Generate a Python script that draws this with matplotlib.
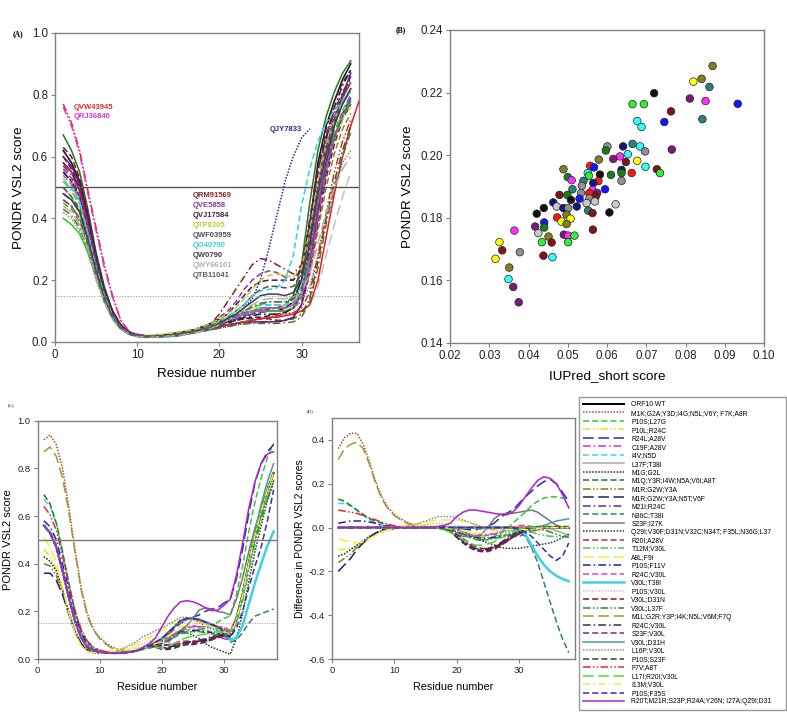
import matplotlib
matplotlib.use("Agg")
import matplotlib.pyplot as plt
import numpy as np
from matplotlib.ticker import FormatStrFormatter, MultipleLocator

plt.rcParams['font.family'] = ['Liberation Sans', 'DejaVu Sans']
plt.rcParams['axes.unicode_minus'] = False

# ---------------- panel A: PONDR VSL2 profiles of ORF10 sequences ----------------
# residues start at 1, one value per residue
a_bundle = [
    [0.62, 0.58, 0.52, 0.41, 0.28, 0.17, 0.10, 0.055, 0.03, 0.02,
     0.018, 0.018, 0.02, 0.022, 0.025, 0.03, 0.035, 0.04, 0.05, 0.06,
     0.07, 0.08, 0.09, 0.10, 0.10, 0.10, 0.10, 0.11, 0.13, 0.20,
     0.38, 0.58, 0.70, 0.78, 0.85, 0.90],
    [0.67, 0.62, 0.55, 0.43, 0.29, 0.18, 0.10, 0.055, 0.03, 0.022,
     0.02, 0.02, 0.02, 0.022, 0.025, 0.03, 0.035, 0.045, 0.055, 0.065,
     0.075, 0.085, 0.095, 0.10, 0.11, 0.11, 0.11, 0.12, 0.15, 0.25,
     0.45, 0.62, 0.73, 0.81, 0.87, 0.91],
    [0.60, 0.56, 0.50, 0.39, 0.27, 0.16, 0.09, 0.05, 0.028, 0.02,
     0.016, 0.015, 0.016, 0.018, 0.02, 0.025, 0.03, 0.035, 0.04, 0.05,
     0.06, 0.07, 0.075, 0.08, 0.08, 0.085, 0.09, 0.095, 0.11, 0.16,
     0.30, 0.48, 0.62, 0.72, 0.80, 0.86],
    [0.57, 0.54, 0.49, 0.38, 0.26, 0.16, 0.09, 0.05, 0.03, 0.022,
     0.02, 0.02, 0.02, 0.022, 0.025, 0.03, 0.035, 0.04, 0.045, 0.055,
     0.065, 0.075, 0.085, 0.09, 0.10, 0.105, 0.11, 0.12, 0.14, 0.22,
     0.40, 0.56, 0.66, 0.74, 0.80, 0.84],
    [0.55, 0.52, 0.47, 0.37, 0.25, 0.15, 0.085, 0.045, 0.025, 0.018,
     0.015, 0.015, 0.016, 0.018, 0.02, 0.025, 0.03, 0.04, 0.05, 0.06,
     0.07, 0.085, 0.10, 0.11, 0.12, 0.12, 0.12, 0.12, 0.13, 0.16,
     0.26, 0.42, 0.58, 0.68, 0.75, 0.80],
    [0.52, 0.49, 0.44, 0.34, 0.23, 0.14, 0.08, 0.045, 0.025, 0.018,
     0.015, 0.015, 0.018, 0.02, 0.025, 0.03, 0.04, 0.05, 0.06, 0.07,
     0.08, 0.09, 0.10, 0.11, 0.12, 0.13, 0.13, 0.13, 0.14, 0.18,
     0.30, 0.47, 0.60, 0.68, 0.74, 0.78],
    [0.58, 0.55, 0.50, 0.40, 0.27, 0.16, 0.09, 0.05, 0.03, 0.02,
     0.018, 0.018, 0.02, 0.02, 0.022, 0.025, 0.03, 0.035, 0.045, 0.055,
     0.065, 0.075, 0.085, 0.09, 0.095, 0.10, 0.10, 0.10, 0.11, 0.14,
     0.24, 0.40, 0.55, 0.66, 0.74, 0.79],
    [0.63, 0.60, 0.53, 0.42, 0.28, 0.17, 0.10, 0.055, 0.032, 0.022,
     0.02, 0.02, 0.02, 0.022, 0.025, 0.028, 0.032, 0.04, 0.05, 0.06,
     0.065, 0.07, 0.075, 0.075, 0.075, 0.075, 0.07, 0.07, 0.08, 0.12,
     0.22, 0.38, 0.53, 0.64, 0.72, 0.77],
    [0.50, 0.47, 0.42, 0.33, 0.23, 0.14, 0.08, 0.045, 0.026, 0.02,
     0.02, 0.022, 0.025, 0.028, 0.03, 0.035, 0.04, 0.05, 0.06, 0.07,
     0.08, 0.09, 0.10, 0.11, 0.11, 0.11, 0.11, 0.12, 0.13, 0.17,
     0.28, 0.44, 0.57, 0.66, 0.72, 0.76],
    [0.45, 0.43, 0.39, 0.31, 0.22, 0.14, 0.08, 0.045, 0.026, 0.02,
     0.018, 0.018, 0.02, 0.022, 0.025, 0.03, 0.035, 0.04, 0.05, 0.06,
     0.07, 0.08, 0.09, 0.095, 0.10, 0.10, 0.10, 0.10, 0.11, 0.14,
     0.22, 0.36, 0.50, 0.61, 0.69, 0.74],
    [0.42, 0.40, 0.36, 0.29, 0.20, 0.13, 0.075, 0.042, 0.025, 0.018,
     0.016, 0.016, 0.018, 0.02, 0.022, 0.026, 0.03, 0.036, 0.045, 0.055,
     0.065, 0.075, 0.085, 0.09, 0.095, 0.10, 0.10, 0.10, 0.11, 0.13,
     0.18, 0.28, 0.40, 0.50, 0.58, 0.62],
    [0.46, 0.44, 0.40, 0.32, 0.23, 0.145, 0.085, 0.048, 0.028, 0.02,
     0.018, 0.018, 0.02, 0.022, 0.025, 0.03, 0.035, 0.042, 0.05, 0.06,
     0.07, 0.08, 0.09, 0.10, 0.105, 0.11, 0.11, 0.11, 0.12, 0.16,
     0.28, 0.45, 0.58, 0.67, 0.73, 0.77],
    [0.40, 0.38, 0.35, 0.29, 0.21, 0.13, 0.075, 0.042, 0.025, 0.018,
     0.016, 0.016, 0.018, 0.02, 0.023, 0.027, 0.032, 0.04, 0.05, 0.06,
     0.07, 0.08, 0.09, 0.10, 0.10, 0.10, 0.10, 0.10, 0.11, 0.15,
     0.26, 0.43, 0.57, 0.66, 0.73, 0.78],
    [0.52, 0.50, 0.46, 0.36, 0.25, 0.155, 0.09, 0.05, 0.028, 0.02,
     0.018, 0.018, 0.02, 0.022, 0.025, 0.03, 0.035, 0.042, 0.05, 0.06,
     0.07, 0.08, 0.09, 0.10, 0.11, 0.12, 0.12, 0.12, 0.13, 0.18,
     0.32, 0.50, 0.63, 0.71, 0.77, 0.81],
    [0.55, 0.52, 0.47, 0.37, 0.25, 0.15, 0.085, 0.047, 0.027, 0.02,
     0.018, 0.018, 0.02, 0.022, 0.025, 0.03, 0.035, 0.042, 0.05, 0.06,
     0.065, 0.07, 0.08, 0.085, 0.09, 0.09, 0.09, 0.095, 0.11, 0.16,
     0.30, 0.50, 0.66, 0.76, 0.83, 0.88],
    [0.50, 0.47, 0.42, 0.33, 0.23, 0.14, 0.08, 0.045, 0.026, 0.02,
     0.018, 0.018, 0.02, 0.022, 0.025, 0.03, 0.035, 0.04, 0.045, 0.05,
     0.055, 0.06, 0.065, 0.07, 0.075, 0.08, 0.085, 0.09, 0.095, 0.10,
     0.12, 0.18, 0.28, 0.38, 0.47, 0.55],
    [0.58, 0.55, 0.49, 0.39, 0.26, 0.16, 0.09, 0.05, 0.03, 0.02,
     0.018, 0.018, 0.02, 0.022, 0.025, 0.03, 0.035, 0.04, 0.045, 0.05,
     0.055, 0.06, 0.065, 0.07, 0.075, 0.08, 0.08, 0.085, 0.09, 0.10,
     0.12, 0.20, 0.34, 0.48, 0.60, 0.70, 0.78],
    [0.48, 0.46, 0.42, 0.34, 0.24, 0.15, 0.085, 0.047, 0.027, 0.02,
     0.018, 0.018, 0.02, 0.022, 0.025, 0.028, 0.032, 0.036, 0.04, 0.045,
     0.05, 0.055, 0.06, 0.062, 0.064, 0.066, 0.068, 0.07, 0.075, 0.09,
     0.14, 0.26, 0.40, 0.52, 0.62, 0.70],
    [0.54, 0.51, 0.46, 0.36, 0.25, 0.15, 0.085, 0.048, 0.027, 0.02,
     0.018, 0.018, 0.02, 0.022, 0.025, 0.03, 0.035, 0.042, 0.05, 0.06,
     0.07, 0.08, 0.09, 0.10, 0.11, 0.11, 0.11, 0.11, 0.12, 0.16,
     0.28, 0.46, 0.60, 0.70, 0.77, 0.82],
    [0.60, 0.57, 0.51, 0.40, 0.27, 0.16, 0.09, 0.05, 0.03, 0.02,
     0.018, 0.018, 0.02, 0.022, 0.025, 0.03, 0.035, 0.04, 0.045, 0.05,
     0.055, 0.06, 0.065, 0.065, 0.065, 0.065, 0.065, 0.07, 0.08, 0.12,
     0.24, 0.42, 0.58, 0.70, 0.80, 0.87],
    [0.43, 0.41, 0.37, 0.30, 0.21, 0.13, 0.075, 0.042, 0.025, 0.018,
     0.016, 0.016, 0.018, 0.02, 0.022, 0.026, 0.03, 0.035, 0.04, 0.045,
     0.05, 0.055, 0.058, 0.06, 0.06, 0.06, 0.06, 0.062, 0.065, 0.08,
     0.13, 0.24, 0.38, 0.50, 0.60, 0.68],
]
a_bundle_colors = ['#111111', '#1f7a1f', '#1f1f7a', '#7a1f7a', '#33dd33', '#33cc33', '#2b2bcc',
                   '#7a1a1a', '#e0e020', '#8a8a20', '#888888', '#2f7f7f', '#22cc22', '#30d8e0',
                   '#222222', '#c0c0c0', '#e02020', '#1f6a1f', '#e040e0', '#6a1a8a', '#6b6b1f']
a_bundle_styles = ['solid', 'solid', 'dash', 'dashdot', 'dash', 'dashdot', 'long',
                   'dash', 'dashdot', 'dash', 'dot', 'dash', 'solid', 'dash',
                   'dashdot', 'long', 'solid', 'dashdot', 'dash', 'solid', 'dashdot']

a_named_ids = ['QVW43945', 'QRJ36840', 'QJY7833', 'QRM91569', 'QVE5858', 'QVJ17584',
               'QTP8305', 'QWF03959', 'QO40790', 'QW0790', 'QWY66101', 'QTB11041']
a_named = [
    [0.77, 0.71, 0.62, 0.49, 0.37, 0.25, 0.15, 0.07, 0.035, 0.025,
     0.02, 0.02, 0.022, 0.025, 0.028, 0.032, 0.036, 0.04, 0.045, 0.05,
     0.055, 0.06, 0.065, 0.07, 0.075, 0.08, 0.085, 0.09, 0.095, 0.11,
     0.16, 0.28, 0.42, 0.55, 0.65, 0.72],
    [0.76, 0.70, 0.61, 0.48, 0.36, 0.24, 0.145, 0.07, 0.035, 0.025,
     0.02, 0.02, 0.022, 0.025, 0.028, 0.032, 0.036, 0.04, 0.05, 0.06,
     0.07, 0.08, 0.09, 0.10, 0.10, 0.105, 0.11, 0.11, 0.12, 0.15,
     0.24, 0.40, 0.55, 0.66, 0.74, 0.80],
    [0.55, 0.52, 0.47, 0.37, 0.25, 0.15, 0.085, 0.047, 0.027, 0.02,
     0.018, 0.018, 0.02, 0.022, 0.025, 0.03, 0.035, 0.042, 0.05, 0.06,
     0.075, 0.09, 0.11, 0.14, 0.20, 0.30, 0.41, 0.52, 0.60, 0.66,
     0.69],
    [0.58, 0.55, 0.49, 0.39, 0.26, 0.16, 0.09, 0.05, 0.03, 0.022,
     0.02, 0.02, 0.022, 0.025, 0.03, 0.035, 0.04, 0.05, 0.06, 0.09,
     0.13, 0.17, 0.21, 0.25, 0.27, 0.265, 0.25, 0.235, 0.22, 0.25,
     0.38, 0.55, 0.67, 0.75, 0.81, 0.85],
    [0.56, 0.53, 0.48, 0.38, 0.26, 0.16, 0.09, 0.05, 0.03, 0.022,
     0.02, 0.02, 0.022, 0.025, 0.03, 0.035, 0.04, 0.05, 0.06, 0.08,
     0.10, 0.13, 0.17, 0.20, 0.22, 0.23, 0.225, 0.21, 0.20, 0.23,
     0.35, 0.52, 0.65, 0.73, 0.79, 0.84],
    [0.62, 0.58, 0.52, 0.41, 0.28, 0.17, 0.10, 0.055, 0.03, 0.022,
     0.02, 0.02, 0.022, 0.025, 0.03, 0.035, 0.04, 0.05, 0.06, 0.075,
     0.09, 0.12, 0.15, 0.18, 0.195, 0.20, 0.20, 0.20, 0.20, 0.24,
     0.38, 0.56, 0.69, 0.78, 0.84, 0.88],
    [0.53, 0.50, 0.45, 0.35, 0.24, 0.15, 0.085, 0.047, 0.027, 0.02,
     0.02, 0.022, 0.025, 0.028, 0.032, 0.036, 0.04, 0.05, 0.06, 0.075,
     0.09, 0.11, 0.14, 0.17, 0.20, 0.215, 0.22, 0.215, 0.21, 0.24,
     0.36, 0.52, 0.64, 0.72, 0.78, 0.82],
    [0.50, 0.47, 0.43, 0.34, 0.24, 0.15, 0.085, 0.047, 0.027, 0.02,
     0.018, 0.018, 0.02, 0.022, 0.025, 0.03, 0.035, 0.042, 0.05, 0.065,
     0.08, 0.10, 0.12, 0.15, 0.17, 0.18, 0.18, 0.175, 0.18, 0.22,
     0.34, 0.50, 0.63, 0.72, 0.79, 0.84],
    [0.52, 0.50, 0.45, 0.35, 0.24, 0.15, 0.085, 0.047, 0.027, 0.02,
     0.018, 0.018, 0.02, 0.022, 0.025, 0.03, 0.035, 0.042, 0.05, 0.065,
     0.08, 0.10, 0.12, 0.15, 0.165, 0.17, 0.175, 0.20, 0.28, 0.44,
     0.56, 0.65, 0.71, 0.75, 0.78, 0.81],
    [0.48, 0.46, 0.42, 0.33, 0.23, 0.14, 0.08, 0.045, 0.026, 0.02,
     0.018, 0.018, 0.02, 0.022, 0.025, 0.03, 0.035, 0.04, 0.048, 0.06,
     0.075, 0.09, 0.11, 0.13, 0.15, 0.155, 0.155, 0.15, 0.16, 0.20,
     0.32, 0.48, 0.61, 0.70, 0.77, 0.82],
    [0.44, 0.42, 0.38, 0.30, 0.21, 0.13, 0.075, 0.042, 0.025, 0.018,
     0.016, 0.016, 0.018, 0.02, 0.022, 0.026, 0.03, 0.036, 0.045, 0.055,
     0.07, 0.085, 0.10, 0.12, 0.135, 0.14, 0.14, 0.14, 0.145, 0.16,
     0.22, 0.32, 0.42, 0.50, 0.56, 0.60],
    [0.46, 0.44, 0.40, 0.32, 0.22, 0.14, 0.08, 0.045, 0.026, 0.02,
     0.018, 0.018, 0.02, 0.022, 0.025, 0.03, 0.035, 0.04, 0.048, 0.058,
     0.07, 0.085, 0.10, 0.115, 0.125, 0.13, 0.13, 0.13, 0.14, 0.17,
     0.28, 0.44, 0.57, 0.66, 0.73, 0.78],
]
a_named_colors = ['#e02a2a', '#e030e0', '#2a2a9a', '#8b2020', '#8b3a9b', '#4a1a4a',
                  '#c8c832', '#505050', '#30d0e0', '#404040', '#b0b0b0', '#606060']
a_named_styles = ['dashdotdot', 'dashdotdot', 'dot', 'dashdot', 'dash', 'dash',
                  'dash', 'dash', 'dash', 'solid', 'long', 'dashdot']

# ---------------- panel B: IUPred_short vs PONDR VSL2 means ----------------
b_iupred = [0.0869, 0.0841, 0.0820, 0.0861, 0.0811, 0.0851, 0.0933, 0.0720, 0.0665, 0.0694,
            0.0763, 0.0843, 0.0746, 0.0677, 0.0688, 0.0765, 0.0601, 0.0641, 0.0665, 0.0684,
            0.0697, 0.0597, 0.0633, 0.0616, 0.0653, 0.0579, 0.0677, 0.0648, 0.0698, 0.0727,
            0.0735, 0.0663, 0.0557, 0.0567, 0.0637, 0.0610, 0.0637, 0.0489, 0.0500, 0.0582,
            0.0551, 0.0554, 0.0510, 0.0540, 0.0637, 0.0578, 0.0536, 0.0565, 0.0512, 0.0595,
            0.0563, 0.0575, 0.0534, 0.0555, 0.0571, 0.0555, 0.0569, 0.0548, 0.0463, 0.0479,
            0.0499, 0.0508, 0.0472, 0.0489, 0.0501, 0.0530, 0.0523, 0.0552, 0.0563, 0.0622,
            0.0606, 0.0421, 0.0439, 0.0497, 0.0473, 0.0484, 0.0507, 0.0440, 0.0440, 0.0417,
            0.0497, 0.0564, 0.0364, 0.0425, 0.0451, 0.0490, 0.0501, 0.0517, 0.0434, 0.0459,
            0.0501, 0.0326, 0.0333, 0.0378, 0.0438, 0.0461, 0.0316, 0.0351, 0.0349, 0.0361,
            0.0375]
b_vsl2 = [0.2285, 0.2244, 0.2235, 0.2218, 0.2181, 0.2173, 0.2164, 0.2198, 0.2163, 0.2163,
          0.2140, 0.2115, 0.2106, 0.2109, 0.2090, 0.2018, 0.2028, 0.2028, 0.2036, 0.2028,
          0.2012, 0.2015, 0.1996, 0.1988, 0.2003, 0.1986, 0.1982, 0.1978, 0.1963, 0.1955,
          0.1943, 0.1943, 0.1966, 0.1961, 0.1953, 0.1937, 0.1943, 0.1955, 0.1930, 0.1938,
          0.1943, 0.1934, 0.1920, 0.1918, 0.1918, 0.1917, 0.1902, 0.1911, 0.1891, 0.1891,
          0.1889, 0.1879, 0.1879, 0.1879, 0.1868, 0.1862, 0.1852, 0.1847, 0.1849, 0.1873,
          0.1873, 0.1857, 0.1836, 0.1831, 0.1831, 0.1861, 0.1836, 0.1823, 0.1815, 0.1843,
          0.1817, 0.1813, 0.1831, 0.1810, 0.1801, 0.1788, 0.1797, 0.1785, 0.1769, 0.1772,
          0.1780, 0.1762, 0.1759, 0.1751, 0.1740, 0.1746, 0.1743, 0.1743, 0.1722, 0.1721,
          0.1722, 0.1722, 0.1696, 0.1690, 0.1679, 0.1674, 0.1669, 0.1641, 0.1604, 0.1579,
          0.1530]
b_group = ['olive', 'olive', 'yellow', 'teal', 'purple', 'magenta', 'blue', 'black', 'green', 'green',
           'darkred', 'teal', 'blue', 'cyan', 'cyan', 'purple', 'gray', 'navy', 'teal', 'cyan',
           'gray', 'darkgreen', 'magenta', 'purple', 'cyan', 'olive', 'yellow', 'darkred', 'cyan', 'darkred',
           'green', 'red', 'red', 'blue', 'navy', 'darkgreen', 'darkgreen', 'olive', 'darkgreen', 'black',
           'cyan', 'green', 'magenta', 'teal', 'gray', 'red', 'gray', 'navy', 'teal', 'blue',
           'magenta', 'purple', 'gray', 'red', 'darkred', 'gray', 'lightgray', 'lightgray', 'navy', 'darkred',
           'darkgreen', 'black', 'lightgray', 'navy', 'gray', 'blue', 'navy', 'teal', 'darkred', 'lightgray',
           'black', 'black', 'black', 'olive', 'red', 'yellow', 'yellow', 'blue', 'darkgreen', 'purple',
           'olive', 'darkred', 'magenta', 'lightgray', 'olive', 'purple', 'magenta', 'green', 'green', 'darkred',
           'green', 'yellow', 'darkred', 'gray', 'darkred', 'cyan', 'yellow', 'olive', 'cyan', 'purple',
           'purple']
b_palette = {'olive': '#808020', 'yellow': '#ffff10', 'teal': '#2a8080', 'purple': '#7a1a7a',
             'magenta': '#ff30ff', 'blue': '#1515ff', 'black': '#101010', 'green': '#30f030',
             'darkred': '#801515', 'cyan': '#30ffff', 'gray': '#909090', 'lightgray': '#c8c8c8',
             'navy': '#151580', 'darkgreen': '#158015', 'red': '#ff1515'}

# ---------------- panels C and D: ORF10 WT and point variants ----------------
wt_vsl2 = [0.56, 0.53, 0.47, 0.37, 0.26, 0.16, 0.09, 0.05, 0.035, 0.03,
           0.027, 0.025, 0.025, 0.027, 0.03, 0.035, 0.045, 0.055, 0.07, 0.085,
           0.11, 0.135, 0.16, 0.17, 0.17, 0.165, 0.155, 0.145, 0.135, 0.125,
           0.11, 0.17, 0.27, 0.40, 0.52, 0.62, 0.71, 0.78]

variant_labels = [
    'M1K;G2A;Y3D;I4G;N5L;V6Y; F7K;A8R', 'P10S;L27G', 'P10L;R24C', 'R24L;A28V', 'C19F;A28V',
    'I4V;N5D', 'L37F;T38I', 'M1G;G2L', 'M1Q;Y3R;I4W;N5A;V6I;A8T', 'M1R;G2W;Y3A',
    'M1R;G2W;Y3A;N5T;V6F', 'M21I;R24C', 'N36C;T38I', 'S23F;I27K',
    'Q29I;V30F;D31N;V32C;N34T; F35L;N36G;L37', 'R20I;A28V', 'T12M;V30L', 'A8L;F9I',
    'P10S;F11V', 'R24C;V30L', 'V30L;T38I', 'P10S;V30L', 'V30L;D31N', 'V30L;L37F',
    'M1L;G2R;Y3P;I4K;N5L;V6M;F7Q', 'R24C;V30L', 'S23F;V30L', 'V30L;D31H', 'L16P;V30L',
    'P10S;S23F', 'F7V;A8T', 'L17I;R20I;V30L', 'I13M;V30L', 'P10S;F35S',
    'R20T;M21R;S23P;R24A;Y26N; I27A;Q29I;D31',
]
# difference to WT per residue (panel D)
variant_diffs = [
    [0.36, 0.41, 0.43, 0.43, 0.38, 0.30, 0.21, 0.14, 0.09, 0.06,
     0.04, 0.025, 0.015, 0.01, 0.005, 0, 0, 0, 0, 0,
     0, 0, 0, 0, 0, 0, 0, 0, 0, 0,
     0, 0, 0, 0, 0, 0, 0, 0],
    [0, 0, 0, 0, 0, 0, 0, 0, 0, 0,
     0, 0, 0, 0, 0, 0, -0.005, -0.01, -0.015, -0.02,
     -0.035, -0.045, -0.055, -0.06, -0.055, -0.04, -0.025, -0.01, 0.02, 0.045,
     0.07, 0.10, 0.12, 0.135, 0.14, 0.14, 0.135, 0.125],
    [-0.10, -0.10, -0.095, -0.085, -0.07, -0.05, -0.03, -0.015, -0.005, 0,
     0.005, 0.01, 0.01, 0.01, 0.01, 0.01, 0.01, 0.01, 0.005, 0,
     -0.01, -0.02, -0.03, -0.035, -0.035, -0.03, -0.02, -0.015, -0.01, -0.005,
     0, 0, 0, 0, 0, 0, 0, 0],
    [0, 0, 0, 0, 0, 0, 0, 0, 0, 0,
     0, 0, 0, 0, 0, 0, 0, 0, 0, 0,
     -0.005, -0.01, -0.01, -0.005, 0.005, 0.02, 0.045, 0.065, 0.08, 0.11,
     0.14, 0.165, 0.19, 0.21, 0.22, 0.20, 0.16, 0.12],
    [0, 0, 0, 0, 0, 0, 0, 0, 0, 0,
     0, 0, 0, 0, 0, 0, 0, -0.01, -0.02, -0.03,
     -0.04, -0.04, -0.04, -0.035, -0.03, -0.03, -0.03, -0.035, -0.04, -0.04,
     -0.03, -0.02, -0.01, 0, 0, 0, 0, 0],
    [0.11, 0.11, 0.10, 0.08, 0.055, 0.035, 0.02, 0.01, 0.005, 0,
     0, 0, 0, 0, 0, 0, 0, 0, 0, 0,
     0, 0, 0, 0, 0, 0, 0, 0, 0, 0,
     0, 0, 0, 0, 0, 0, 0, 0],
    [0, 0, 0, 0, 0, 0, 0, 0, 0, 0,
     0, 0, 0, 0, 0, 0, 0, 0, 0, 0,
     0, 0, 0, 0, 0, 0, 0, 0, 0, 0,
     0, 0, 0, 0, -0.005, -0.015, -0.025, -0.035],
    [-0.13, -0.12, -0.10, -0.08, -0.06, -0.04, -0.025, -0.015, -0.01, -0.005,
     0, 0, 0, 0, 0, 0, 0, 0, 0, 0,
     0, 0, 0, 0, 0, 0, 0, 0, 0, 0,
     0, 0, 0, 0, 0, 0, 0, 0],
    [0.13, 0.12, 0.10, 0.08, 0.06, 0.04, 0.03, 0.02, 0.01, 0.005,
     0, 0, 0, 0, 0, 0, 0, 0, 0, 0,
     0, 0, 0, 0, 0, 0, 0, 0, 0, 0,
     0, 0, 0, 0, 0, 0, 0, 0],
    [-0.16, -0.14, -0.12, -0.09, -0.07, -0.045, -0.025, -0.015, -0.005, 0,
     0, 0, 0, 0, 0, 0, 0, 0, 0, 0,
     0, 0, 0, 0, 0, 0, 0, 0, 0, 0,
     0, 0, 0, 0, 0, 0, 0, 0],
    [-0.20, -0.17, -0.14, -0.10, -0.07, -0.045, -0.025, -0.01, 0, 0,
     0, 0, 0, 0, 0, 0, 0, 0, 0, 0,
     0, 0, 0, 0, 0, 0, 0, 0, 0, 0,
     0, 0, 0, 0, 0, 0, 0, 0],
    [0, 0, 0, 0, 0, 0, 0, 0, 0, 0,
     0, 0, 0, 0, 0, 0, 0, -0.005, -0.02, -0.04,
     -0.06, -0.08, -0.095, -0.10, -0.095, -0.085, -0.07, -0.05, -0.03, -0.015,
     -0.005, 0, 0, 0, 0, 0, 0, 0],
    [0, 0, 0, 0, 0, 0, 0, 0, 0, 0,
     0, 0, 0, 0, 0, 0, 0, 0, 0, 0,
     0, 0, 0, 0, 0, 0, 0, 0, -0.01, -0.02,
     -0.04, -0.09, -0.16, -0.25, -0.34, -0.43, -0.51, -0.57],
    [0, 0, 0, 0, 0, 0, 0, 0, 0, 0,
     0, 0, 0, 0, 0, 0, 0, 0, 0, 0,
     -0.02, -0.03, -0.04, -0.03, 0, 0.04, 0.06, 0.065, 0.065, 0.07,
     0.075, 0.08, 0.07, 0.05, 0.03, 0.01, 0, 0],
    [0, 0, 0, 0, 0, 0, 0, 0, 0, 0,
     0, 0, 0, 0, 0, 0, 0, 0, -0.005, -0.01,
     -0.02, -0.035, -0.05, -0.06, -0.07, -0.08, -0.09, -0.095, -0.095, -0.095,
     -0.09, -0.085, -0.08, -0.075, -0.07, -0.06, -0.045, -0.03],
    [0, 0, 0, 0, 0, 0, 0, 0, 0, 0,
     0, 0, 0, 0, 0, 0, 0, 0, -0.01, -0.03,
     -0.05, -0.07, -0.085, -0.095, -0.095, -0.09, -0.08, -0.065, -0.045, -0.03,
     -0.015, -0.005, 0, 0, 0, 0, 0, 0],
    [0, 0, 0, 0, 0, 0, 0, 0, 0, 0,
     0, 0.005, 0.005, 0.005, 0, 0, 0, 0, -0.005, -0.01,
     -0.02, -0.03, -0.04, -0.045, -0.045, -0.04, -0.035, -0.03, -0.02, -0.015,
     -0.015, -0.02, -0.03, -0.035, -0.04, -0.04, -0.04, -0.04],
    [-0.05, -0.06, -0.065, -0.07, -0.065, -0.05, -0.035, -0.02, -0.01, 0,
     0.005, 0.01, 0.015, 0.02, 0.025, 0.03, 0.035, 0.035, 0.035, 0.035,
     0.03, 0.02, 0.01, 0, -0.005, -0.01, -0.01, -0.005, 0, 0,
     0, 0, 0, 0, 0, 0, 0, 0],
    [0.02, 0.025, 0.03, 0.03, 0.03, 0.025, 0.02, 0.01, 0.005, 0,
     0, 0, 0, 0, 0, 0, 0, 0, -0.01, -0.02,
     -0.03, -0.04, -0.045, -0.05, -0.05, -0.045, -0.04, -0.035, -0.03, -0.02,
     -0.01, 0, 0, 0, 0, 0, 0, 0],
    [0, 0, 0, 0, 0, 0, 0, 0, 0, 0,
     0, 0, 0, 0, 0, 0, 0, 0, 0, -0.01,
     -0.02, -0.03, -0.04, -0.04, -0.035, -0.03, -0.02, -0.01, 0, 0.01,
     0.01, 0.005, 0, 0, 0, 0, 0, 0],
    [0, 0, 0, 0, 0, 0, 0, 0, 0, 0,
     0, 0, 0, 0, 0, 0, 0, 0, 0, 0,
     0, 0, 0, 0, 0, 0, 0, -0.01, -0.01, -0.01,
     -0.03, -0.08, -0.13, -0.17, -0.20, -0.22, -0.235, -0.245],
    [0, 0, 0, 0, 0, 0, 0, 0, 0, 0,
     0, 0, 0.005, 0.01, 0.015, 0.02, 0.02, 0.02, 0.015, 0.01,
     0.005, 0, -0.005, -0.01, -0.01, -0.01, -0.005, 0, 0, 0,
     0, -0.005, -0.01, -0.01, -0.01, -0.005, 0, 0],
    [0, 0, 0, 0, 0, 0, 0, 0, 0, 0,
     0, 0, 0, 0, 0, 0, 0, 0, -0.02, -0.04,
     -0.065, -0.085, -0.10, -0.105, -0.10, -0.09, -0.075, -0.055, -0.035, -0.02,
     -0.01, 0, 0.005, 0.005, 0.005, 0.005, 0.005, 0.005],
    [0, 0, 0, 0, 0, 0, 0, 0, 0, 0,
     0, 0, 0, 0, 0, 0, 0, 0, -0.01, -0.02,
     -0.03, -0.04, -0.05, -0.055, -0.055, -0.05, -0.045, -0.04, -0.035, -0.03,
     -0.02, -0.015, -0.01, -0.01, -0.02, -0.03, -0.04, -0.045],
    [0.31, 0.36, 0.38, 0.39, 0.36, 0.29, 0.20, 0.13, 0.085, 0.055,
     0.035, 0.02, 0.01, 0.005, 0, 0, 0, 0, 0, 0,
     0, 0, 0, 0, 0, 0, 0, 0, 0, 0,
     0, 0, 0, 0, 0, 0, 0, 0],
    [0, 0, 0, 0, 0, 0, 0, 0, 0, 0,
     0, 0, 0, 0, 0, 0, 0, 0, -0.02, -0.04,
     -0.06, -0.08, -0.095, -0.10, -0.10, -0.09, -0.075, -0.06, -0.04, -0.025,
     -0.01, 0, 0, 0, 0, 0, 0, 0],
    [0, 0, 0, 0, 0, 0, 0, 0, 0, 0,
     0, 0, 0, 0, 0, 0, 0, 0, 0, -0.03,
     -0.05, -0.075, -0.095, -0.105, -0.11, -0.10, -0.085, -0.065, -0.045, -0.03,
     -0.015, -0.005, 0, 0, 0, 0, 0, 0],
    [0, 0, 0, 0, 0, 0, 0, 0, 0, 0,
     0, 0, 0, 0, 0, 0, 0, 0, 0, 0,
     0, 0, 0, 0, 0, 0, 0, 0, -0.005, -0.01,
     -0.01, -0.005, 0, 0.01, 0.02, 0.03, 0.035, 0.04],
    [0, 0, 0, 0, 0, 0, 0, 0, 0, 0,
     0, 0.005, 0.01, 0.02, 0.03, 0.04, 0.05, 0.05, 0.05, 0.045,
     0.035, 0.025, 0.015, 0.005, 0, -0.01, -0.02, -0.02, -0.015, -0.01,
     0, 0, 0, 0, 0, 0, 0, 0],
    [0, 0, 0, 0, 0, 0, 0, 0, 0, 0,
     0, 0, 0, 0, 0, 0, 0, 0, -0.02, -0.045,
     -0.07, -0.09, -0.105, -0.11, -0.105, -0.095, -0.08, -0.06, -0.04, -0.025,
     -0.01, 0, 0, 0, 0, 0, 0, 0],
    [0.08, 0.075, 0.07, 0.065, 0.055, 0.045, 0.035, 0.025, 0.015, 0.008,
     0.003, 0, 0, 0, 0, 0, 0, 0, 0, 0,
     0, 0, 0, 0, 0, 0, 0, 0, 0, 0,
     0, 0, 0, 0, 0, 0, 0, 0],
    [0, 0, 0, 0, 0, 0, 0, 0, 0, 0,
     0, 0, 0, 0, 0, 0, 0, -0.01, -0.02, -0.04,
     -0.055, -0.07, -0.08, -0.08, -0.075, -0.065, -0.05, -0.035, -0.02, -0.01,
     0, 0, 0, 0, 0, 0, 0, 0],
    [0, 0, 0, 0, 0, 0, 0, 0, 0, 0,
     0, 0.005, 0.01, 0.01, 0.01, 0.01, 0.005, 0, -0.005, -0.01,
     -0.015, -0.02, -0.025, -0.025, -0.02, -0.015, -0.01, -0.01, -0.01, -0.01,
     -0.01, -0.01, -0.005, 0, 0, 0, 0, 0],
    [0, 0, 0, 0, 0, 0, 0, 0, 0, 0,
     0, 0, 0, 0, 0, 0, 0, 0, 0, 0,
     0, 0, 0, 0, 0, 0, 0, 0, 0, -0.01,
     -0.02, -0.04, -0.07, -0.10, -0.13, -0.15, -0.13, -0.07],
    [0, 0, 0, 0, 0, 0, 0, 0, 0, 0,
     0, 0, 0, 0, 0, 0, 0.005, 0.01, 0.02, 0.05,
     0.07, 0.08, 0.08, 0.075, 0.07, 0.065, 0.06, 0.058, 0.07, 0.10,
     0.14, 0.18, 0.215, 0.232, 0.225, 0.20, 0.15, 0.09],
]
variant_colors = ['#b5472f', '#33cc33', '#e6e620', '#2b2bb8', '#cc33cc', '#3fd8e0', '#a8a8a8',
                  '#222222', '#1f7a1f', '#7f7f1f', '#1f1f6b', '#7a1f7a', '#2f7f7f', '#777777',
                  '#333333', '#cc2a2a', '#44cc44', '#eeee44', '#22229a', '#e040e0', '#40d0e0',
                  '#c8c8c8', '#7a1a1a', '#2f8f2f', '#9a9a3a', '#2a2a6a', '#7a2a7a', '#4a9a9a',
                  '#8a8a8a', '#3a3a3a', '#dd2a2a', '#44dd44', '#eeee55', '#3030b0', '#b020d0']
variant_styles = ['dot', 'dash', 'dashdotdot', 'long', 'dashdot', 'dash', 'solid',
                  'dot', 'dash', 'dashdotdot', 'long', 'dashdot', 'dash', 'solid',
                  'dot', 'dash', 'dashdotdot', 'long', 'dashdot', 'dash', 'solid',
                  'dot', 'dash', 'dashdotdot', 'long', 'dashdot', 'dash', 'solid',
                  'dot', 'dash', 'dashdotdot', 'long', 'dashdot', 'dash', 'solid']

LINESTYLES = {'solid': '-', 'dot': (0, (1, 1)), 'dash': (0, (4, 2)), 'long': (0, (7, 3)),
              'dashdot': (0, (5, 2, 1, 2)), 'dashdotdot': (0, (5, 1.5, 1, 1.5, 1, 1.5))}
SPINE = '#808080'


def style_axes(ax, tick_size):
    for s in ax.spines.values():
        s.set_color(SPINE)
        s.set_linewidth(1.0)
    ax.tick_params(direction='out', length=3, width=0.8, color=SPINE,
                   labelsize=tick_size, labelcolor='#222222', pad=2)


fig = plt.figure(figsize=(7.87, 7.12), dpi=100)

# ---- (A)
ax = fig.add_axes([0.0699, 0.5197, 0.3863, 0.434])
for y, c, s in zip(a_bundle, a_bundle_colors, a_bundle_styles):
    ax.plot(np.arange(1, len(y) + 1), y, color=c, ls=LINESTYLES[s], lw=1.1)
for y, c, s in zip(a_named, a_named_colors, a_named_styles):
    ax.plot(np.arange(1, len(y) + 1), y, color=c, ls=LINESTYLES[s], lw=1.1)
ax.axhline(0.5, color='#555555', lw=1.0)
ax.axhline(0.15, color='#999999', lw=0.8, ls=(0, (1, 1.5)))
ax.set_xlim(0, 37)
ax.set_ylim(0, 1)
ax.xaxis.set_major_locator(MultipleLocator(10))
ax.yaxis.set_major_locator(MultipleLocator(0.2))
ax.yaxis.set_major_formatter(FormatStrFormatter('%.1f'))
ax.set_xlabel('Residue number', fontsize=9.7, labelpad=5)
ax.set_ylabel('PONDR VSL2 score', fontsize=9.7, labelpad=5)
style_axes(ax, 8.3)
for i, (name, c) in enumerate(zip(a_named_ids, a_named_colors)):
    if i < 2:
        ax.text(2.3, 0.76 - 0.03 * i, name, color=c, fontsize=5.5, weight='bold', va='center')
    elif i == 2:
        ax.text(26.1, 0.686, name, color=c, fontsize=5.5, weight='bold', va='center')
    else:
        ax.text(16.8, 0.4735 - 0.0324 * (i - 3), name, color=c, fontsize=5.5,
                weight='bold', va='center')
fig.text(13 / 787, 1 - 34 / 712, '(A)', family='Liberation Serif', weight='bold',
         fontsize=5.5, va='center')

# ---- (B)
ax = fig.add_axes([0.5718, 0.5183, 0.399, 0.4396])
ax.scatter(b_iupred, b_vsl2, c=[b_palette[g] for g in b_group], s=30,
           edgecolors='#222222', linewidths=0.5, zorder=3)
ax.set_xlim(0.02, 0.10)
ax.set_ylim(0.14, 0.24)
ax.xaxis.set_major_locator(MultipleLocator(0.01))
ax.yaxis.set_major_locator(MultipleLocator(0.02))
ax.xaxis.set_major_formatter(FormatStrFormatter('%.2f'))
ax.yaxis.set_major_formatter(FormatStrFormatter('%.2f'))
ax.set_xlabel('IUPred_short score', fontsize=9.7, labelpad=6)
ax.set_ylabel('PONDR VSL2 score', fontsize=9.7, labelpad=5)
style_axes(ax, 8.3)
fig.text(396 / 787, 1 - 30 / 712, '(B)', family='Liberation Serif', weight='bold',
         fontsize=5.5, va='center')

# ---- (C)
res = np.arange(1, len(wt_vsl2) + 1)
axc = fig.add_axes([0.0479, 0.0744, 0.3037, 0.3347])
axd = fig.add_axes([0.4219, 0.0744, 0.3088, 0.3385])
handles = []
h, = axc.plot(res, wt_vsl2, color='black', lw=1.4)
axd.plot(res, np.zeros(len(res)), color='black', lw=1.4)
handles.append(h)
for d, c, s in zip(variant_diffs, variant_colors, variant_styles):
    lw = 1.8 if (s == 'solid' and c == '#40d0e0') else 1.1
    axc.plot(res, np.array(wt_vsl2) + np.array(d), color=c, ls=LINESTYLES[s], lw=lw)
    h, = axd.plot(res, d, color=c, ls=LINESTYLES[s], lw=lw)
    handles.append(h)

axc.axhline(0.5, color='#777777', lw=1.0)
axc.axhline(0.15, color='#999999', lw=0.7, ls=(0, (1, 1.5)))
axc.set_xlim(0, 38.5)
axc.set_ylim(0, 1)
axc.xaxis.set_major_locator(MultipleLocator(10))
axc.yaxis.set_major_locator(MultipleLocator(0.2))
axc.yaxis.set_major_formatter(FormatStrFormatter('%.1f'))
axc.set_xlabel('Residue number', fontsize=7.8, labelpad=5)
axc.set_ylabel('PONDR VSL2 score', fontsize=8, labelpad=3)
style_axes(axc, 6.8)
fig.text(8 / 787, 1 - 405 / 712, '(C)', family='Liberation Serif', fontsize=3.5, va='center')

# ---- (D)
axd.set_xlim(0, 39)
axd.set_ylim(-0.6, 0.5)
axd.xaxis.set_major_locator(MultipleLocator(10))
axd.set_yticks([-0.6, -0.4, -0.2, 0.0, 0.2, 0.4])
axd.yaxis.set_major_formatter(FormatStrFormatter('%.1f'))
axd.set_xlabel('Residue number', fontsize=7.8, labelpad=5)
axd.set_ylabel('Difference in PONDR VSL2 scores', fontsize=7.4, labelpad=3)
style_axes(axd, 6.8)
fig.text(307 / 787, 1 - 411 / 712, '(D)', family='Liberation Serif', fontsize=3.5, va='center')

fig.legend(handles, ['ORF10 WT'] + variant_labels, loc='upper left',
           bbox_to_anchor=(579 / 787, 1 - 397 / 712, 207 / 787, 0), mode='expand',
           fontsize=4.9, handlelength=6, handletextpad=1.1, labelspacing=0.22,
           borderpad=0.6, borderaxespad=0, fancybox=False, edgecolor='#999999',
           framealpha=1)

fig.savefig('out.png', dpi=100)
